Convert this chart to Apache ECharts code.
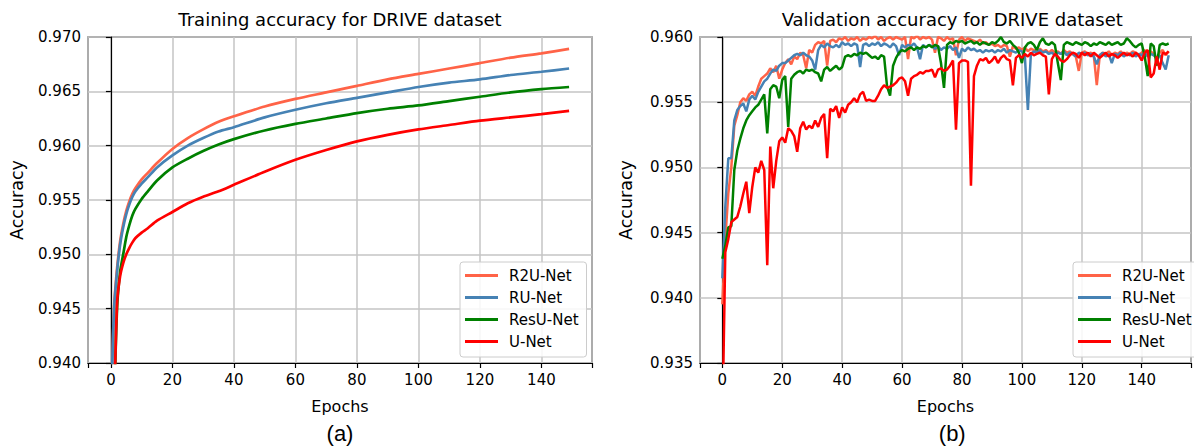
<!DOCTYPE html>
<html><head><meta charset="utf-8">
<script src="https://cdn.jsdelivr.net/npm/echarts@6/dist/echarts.min.js"></script>
<style>html,body{margin:0;padding:0;background:#fff}#chart{width:1194px;height:446px}</style>
</head><body><div id="chart"></div>
<script>
const seriesNames = ['R2U-Net', 'RU-Net', 'ResU-Net', 'U-Net'];
const seriesColors = ['#ff6347', '#4682b4', '#008000', '#ff0000'];

// Training accuracy (smooth curves, read at key epochs)
const trainEpochs = [0, 1, 2, 3, 4, 5, 6, 7, 8, 10, 12, 15, 20, 25, 30, 35, 40, 50, 60, 70, 80, 90, 100, 110, 120, 130, 140, 149];
const trainR2U  = [0.935, 0.9450, 0.9487, 0.9512, 0.9528, 0.9540, 0.9549, 0.9556, 0.9561, 0.9569, 0.9575, 0.9584, 0.9597, 0.9607, 0.9615, 0.9622, 0.9627, 0.9636, 0.9643, 0.9649, 0.9655, 0.9661, 0.9666, 0.9671, 0.9676, 0.9681, 0.9685, 0.9689];
const trainRU   = [0.935, 0.9448, 0.9484, 0.9509, 0.9525, 0.9537, 0.9546, 0.9553, 0.9558, 0.9565, 0.9571, 0.9580, 0.9591, 0.9600, 0.9607, 0.9613, 0.9617, 0.9626, 0.9633, 0.9639, 0.9644, 0.9649, 0.9654, 0.9658, 0.9661, 0.9665, 0.9668, 0.9671];
const trainResU = [0.920, 0.9350, 0.9450, 0.9484, 0.9500, 0.9516, 0.9527, 0.9536, 0.9542, 0.9551, 0.9558, 0.9568, 0.9580, 0.9588, 0.9595, 0.9601, 0.9606, 0.9614, 0.9620, 0.9625, 0.9630, 0.9634, 0.9637, 0.9641, 0.9645, 0.9649, 0.9652, 0.9654];
const trainUNet = [0.920, 0.9350, 0.9455, 0.9480, 0.9492, 0.9500, 0.9506, 0.9511, 0.9515, 0.9520, 0.9524, 0.9531, 0.9539, 0.9547, 0.9553, 0.9558, 0.9564, 0.9576, 0.9587, 0.9596, 0.9604, 0.9610, 0.9615, 0.9619, 0.9623, 0.9626, 0.9629, 0.9632];

// Validation accuracy, epochs 0..149 (index = epoch)
const valR2U = [
0.9395,0.9445,0.9480,0.9500,0.9532,0.9540,0.9550,0.9553,0.9551,0.9556,
0.9558,0.9555,0.9562,0.9568,0.9570,0.9572,0.9576,0.9573,0.9578,0.9568,
0.9575,0.9580,0.9583,0.9579,0.9585,0.9583,0.9588,0.9586,0.9576,0.9590,
0.9588,0.9594,0.9596,0.9595,0.9597,0.9578,0.9597,0.9598,0.9596,0.9599,
0.9598,0.9600,0.9597,0.9599,0.9598,0.9600,0.9597,0.9599,0.9598,0.9600,
0.9599,0.9601,0.9598,0.9600,0.9597,0.9599,0.9600,0.9598,0.9600,0.9599,
0.9598,0.9600,0.9583,0.9600,0.9599,0.9601,0.9598,0.9600,0.9599,0.9600,
0.9598,0.9588,0.9600,0.9599,0.9597,0.9600,0.9598,0.9599,0.9586,0.9598,
0.9600,0.9597,0.9599,0.9598,0.9597,0.9596,0.9598,0.9595,0.9596,0.9594,
0.9595,0.9593,0.9594,0.9592,0.9594,0.9593,0.9585,0.9593,0.9591,0.9592,
0.9590,0.9592,0.9589,0.9591,0.9590,0.9588,0.9591,0.9589,0.9590,0.9588,
0.9590,0.9588,0.9589,0.9587,0.9590,0.9588,0.9589,0.9587,0.9585,0.9574,
0.9588,0.9589,0.9587,0.9588,0.9586,0.9563,0.9586,0.9588,0.9587,0.9589,
0.9586,0.9588,0.9587,0.9589,0.9586,0.9588,0.9587,0.9589,0.9588,0.9586,
0.9588,0.9590,0.9586,0.9589,0.9587,0.9583,0.9588,0.9590,0.9586,0.9589];
const valRU = [
0.9415,0.9470,0.9507,0.9507,0.9536,0.9544,0.9547,0.9549,0.9543,0.9552,
0.9555,0.9552,0.9558,0.9562,0.9566,0.9568,0.9572,0.9575,0.9574,0.9578,
0.9580,0.9580,0.9582,0.9584,0.9586,0.9587,0.9586,0.9588,0.9586,0.9585,
0.9582,0.9575,0.9590,0.9594,0.9592,0.9595,0.9593,0.9592,0.9594,0.9592,
0.9596,0.9594,0.9595,0.9593,0.9595,0.9594,0.9577,0.9594,0.9595,0.9593,
0.9595,0.9594,0.9596,0.9593,0.9595,0.9594,0.9592,0.9595,0.9593,0.9586,
0.9594,0.9592,0.9594,0.9593,0.9595,0.9592,0.9583,0.9594,0.9592,0.9594,
0.9593,0.9591,0.9593,0.9590,0.9592,0.9591,0.9593,0.9590,0.9592,0.9584,
0.9591,0.9589,0.9592,0.9590,0.9591,0.9589,0.9590,0.9588,0.9590,0.9589,
0.9590,0.9588,0.9590,0.9589,0.9591,0.9588,0.9590,0.9589,0.9588,0.9590,
0.9589,0.9585,0.9544,0.9587,0.9589,0.9588,0.9590,0.9588,0.9589,0.9587,
0.9588,0.9586,0.9588,0.9587,0.9589,0.9586,0.9588,0.9587,0.9585,0.9588,
0.9587,0.9588,0.9586,0.9587,0.9585,0.9579,0.9586,0.9588,0.9585,0.9587,
0.9580,0.9587,0.9586,0.9588,0.9585,0.9587,0.9586,0.9588,0.9585,0.9587,
0.9586,0.9588,0.9585,0.9587,0.9586,0.9584,0.9586,0.9580,0.9575,0.9586];
const valResU = [
0.9430,0.9440,0.9454,0.9455,0.9498,0.9513,0.9522,0.9530,0.9536,0.9540,
0.9543,0.9546,0.9548,0.9552,0.9556,0.9526,0.9560,0.9563,0.9562,0.9553,
0.9567,0.9570,0.9531,0.9568,0.9571,0.9573,0.9574,0.9572,0.9575,0.9574,
0.9575,0.9573,0.9572,0.9566,0.9575,0.9577,0.9574,0.9576,0.9578,0.9575,
0.9577,0.9585,0.9586,0.9585,0.9587,0.9586,0.9588,0.9587,0.9588,0.9586,
0.9584,0.9585,0.9583,0.9586,0.9585,0.9562,0.9555,0.9578,0.9584,0.9588,
0.9590,0.9589,0.9591,0.9592,0.9590,0.9592,0.9591,0.9593,0.9592,0.9594,
0.9592,0.9594,0.9593,0.9580,0.9561,0.9594,0.9596,0.9595,0.9597,0.9596,
0.9597,0.9595,0.9596,0.9597,0.9595,0.9596,0.9594,0.9596,0.9595,0.9594,
0.9596,0.9595,0.9597,0.9600,0.9596,0.9595,0.9597,0.9594,0.9592,0.9588,
0.9580,0.9592,0.9595,0.9596,0.9594,0.9590,0.9596,0.9599,0.9595,0.9594,
0.9596,0.9594,0.9580,0.9567,0.9594,0.9596,0.9595,0.9594,0.9596,0.9595,
0.9594,0.9596,0.9595,0.9593,0.9595,0.9594,0.9596,0.9595,0.9594,0.9596,
0.9594,0.9595,0.9596,0.9594,0.9595,0.9599,0.9597,0.9594,0.9592,0.9594,
0.9595,0.9585,0.9570,0.9595,0.9593,0.9578,0.9594,0.9595,0.9594,0.9595];
const valUNet = [
0.9300,0.9435,0.9445,0.9458,0.9460,0.9462,0.9470,0.9480,0.9489,0.9465,
0.9485,0.9500,0.9496,0.9505,0.9498,0.9425,0.9516,0.9484,0.9505,0.9520,
0.9523,0.9519,0.9530,0.9528,0.9524,0.9512,0.9530,0.9535,0.9529,0.9532,
0.9530,0.9536,0.9531,0.9538,0.9541,0.9507,0.9545,0.9543,0.9547,0.9538,
0.9546,0.9542,0.9548,0.9550,0.9553,0.9550,0.9556,0.9558,0.9551,0.9552,
0.9551,0.9551,0.9555,0.9560,0.9563,0.9561,0.9562,0.9563,0.9565,0.9568,
0.9569,0.9566,0.9555,0.9568,0.9570,0.9571,0.9573,0.9572,0.9574,0.9574,
0.9575,0.9569,0.9575,0.9576,0.9574,0.9575,0.9578,0.9582,0.9529,0.9580,
0.9582,0.9582,0.9581,0.9486,0.9570,0.9578,0.9583,0.9582,0.9584,0.9580,
0.9582,0.9585,0.9580,0.9584,0.9586,0.9583,0.9582,0.9563,0.9584,0.9586,
0.9584,0.9587,0.9585,0.9588,0.9586,0.9587,0.9588,0.9586,0.9585,0.9556,
0.9583,0.9587,0.9585,0.9582,0.9581,0.9583,0.9586,0.9588,0.9587,0.9584,
0.9588,0.9586,0.9588,0.9585,0.9588,0.9586,0.9584,0.9586,0.9588,0.9585,
0.9587,0.9586,0.9584,0.9586,0.9588,0.9586,0.9587,0.9585,0.9588,0.9586,
0.9582,0.9588,0.9590,0.9569,0.9572,0.9585,0.9575,0.9588,0.9587,0.9589];

const trainSets = [trainR2U, trainRU, trainResU, trainUNet];
const valSets = [valR2U, valRU, valResU, valUNet];
const panelTitles = ['Training accuracy for DRIVE dataset', 'Validation accuracy for DRIVE dataset'];
const panelLetters = ['(a)', '(b)'];
const xAxisName = 'Epochs';
const yAxisName = 'Accuracy';
const epochRange = [-7.45, 156.45];
const trainYRange = [0.940, 0.970];
const valYRange = [0.935, 0.960];
const yStep = 0.005;

const FONT = 'DejaVu Sans';
const chart = echarts.init(document.getElementById('chart'), null, {renderer: 'svg'});

const grids = [
  {left: 88, top: 37, width: 504, height: 326},
  {left: 700, top: 37, width: 504.5, height: 326}
];

function xAxisFor(i) {
  return {
    type: 'value', gridIndex: i, min: epochRange[0], max: epochRange[1], splitNumber: 8,
    name: xAxisName, nameLocation: 'middle', nameGap: 35,
    nameTextStyle: {fontFamily: FONT, fontSize: 16, color: '#000'},
    axisLine: {show: true, onZero: false, lineStyle: {color: '#000', width: 1.2}},
    axisTick: {show: true, length: 5, lineStyle: {color: '#000', width: 1.2}},
    axisLabel: {fontFamily: FONT, fontSize: 15, color: '#000', margin: 9,
      formatter: v => (Math.abs(v % 20) < 1e-9 ? String(v) : '')},
    splitLine: {show: true, lineStyle: {color: '#c4c4c4', width: 1.5}}
  };
}
function yAxisFor(i, range, gap) {
  return {
    type: 'value', gridIndex: i, min: range[0], max: range[1], interval: yStep,
    name: yAxisName, nameLocation: 'middle', nameGap: gap,
    nameTextStyle: {fontFamily: FONT, fontSize: 17.5, color: '#000'},
    axisLine: {show: true, lineStyle: {color: '#000', width: 1.2}},
    axisTick: {show: true, length: 5, lineStyle: {color: '#000', width: 1.2}},
    axisLabel: {fontFamily: FONT, fontSize: 15, color: '#000', margin: 7,
      formatter: v => v.toFixed(3)},
    splitLine: {show: true, lineStyle: {color: '#c4c4c4', width: 1.5}}
  };
}

const series = [];
seriesNames.forEach((name, k) => {
  series.push({
    name, type: 'line', xAxisIndex: 0, yAxisIndex: 0, showSymbol: false, symbol: 'none',
    smooth: 0.25, clip: true,
    lineStyle: {color: seriesColors[k], width: 2.7}, itemStyle: {color: seriesColors[k]},
    data: trainEpochs.map((e, j) => [e, trainSets[k][j]])
  });
});
seriesNames.forEach((name, k) => {
  series.push({
    name, type: 'line', xAxisIndex: 1, yAxisIndex: 1, showSymbol: false, symbol: 'none',
    clip: true,
    lineStyle: {color: seriesColors[k], width: 2.5}, itemStyle: {color: seriesColors[k]},
    data: valSets[k].map((v, e) => [e, v])
  });
});

function legendAt(left) {
  return {
    data: seriesNames.map(n => ({name: n, icon: 'rect'})), orient: 'vertical', left, top: 262,
    padding: [6, 8, 8, 5], itemWidth: 33, itemHeight: 3, itemGap: 7,
    backgroundColor: 'rgba(255,255,255,0.85)', borderColor: '#cccccc', borderWidth: 1, borderRadius: 3,
    textStyle: {fontFamily: FONT, fontSize: 15, color: '#000', padding: [0, 0, 0, 6]},
    selectedMode: false
  };
}

const centers = [340, 952.25];
const graphics = [];
centers.forEach((cx, i) => {
  graphics.push({type: 'text', x: cx, y: 19, z: 100,
    style: {text: panelTitles[i], fontFamily: FONT, fontSize: 18, fill: '#000', textAlign: 'center', textVerticalAlign: 'middle'}});
  graphics.push({type: 'text', x: cx, y: 433, z: 100,
    style: {text: panelLetters[i], fontFamily: 'Liberation Sans', fontSize: 22, fill: '#000', textAlign: 'center', textVerticalAlign: 'middle'}});
});

chart.setOption({
  animation: false,
  backgroundColor: '#fff',
  grid: grids.map(g => Object.assign({show: true, borderColor: '#000', borderWidth: 1.2, backgroundColor: 'transparent'}, g)),
  xAxis: [xAxisFor(0), xAxisFor(1)],
  yAxis: [yAxisFor(0, trainYRange, 62), yAxisFor(1, valYRange, 65)],
  legend: [legendAt(460), legendAt(1073)],
  graphic: graphics,
  series
});
</script>
</body></html>
